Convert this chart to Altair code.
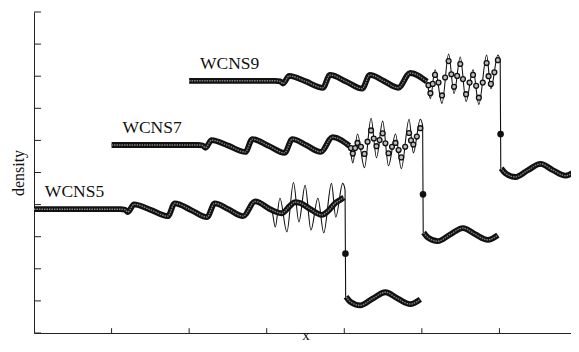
import altair as alt
import pandas as pd

schemes = ["WCNS5", "WCNS7", "WCNS9"]
shift_x = [0, 2, 4]
shift_y = [0, 2, 4]

# smooth part before the high-frequency region (shared)
pre_x = [-5.00, -2.78, -2.65, -2.58, -2.42, -2.00, -1.55, -1.37, -0.95, -0.54, -0.34, 0.02, 0.39, 0.70, 1.13]
pre_rho = [3.857, 3.857, 3.84, 3.77, 4.01, 3.84, 3.64, 4.04, 3.83, 3.61, 4.04, 3.85, 3.64, 4.10, 3.83]

# reference (fine grid) in the high-frequency region, up to the shock
ref_hf_x = [1.22, 1.34, 1.52, 1.69, 1.83, 1.99, 2.14, 2.32, 2.47, 2.67, 2.78, 2.96, 3.02]
ref_hf_rho = [3.30, 4.20, 3.15, 4.69, 3.46, 4.60, 3.21, 4.20, 3.12, 4.66, 3.61, 4.66, 4.45]

# post-shock state (shared)
post_x = [3.035, 3.15, 3.40, 3.72, 4.05, 4.37, 4.69, 4.95]
post_rho = [1.13, 0.97, 0.86, 1.07, 1.27, 1.07, 0.90, 1.05]

# WCNS5 band through the high-frequency region
w5_hf_x = [1.38, 1.60, 1.73, 1.86, 2.10, 2.42, 2.60, 2.76, 2.90, 2.99]
w5_hf_rho = [3.73, 3.96, 4.08, 4.05, 3.88, 3.68, 3.82, 4.04, 4.15, 4.22]

# WCNS7 / WCNS9 points in the high-frequency region
hf_x = [1.17, 1.22, 1.28, 1.34, 1.43, 1.52, 1.60, 1.69, 1.76, 1.83, 1.91, 1.99,
        2.06, 2.14, 2.23, 2.32, 2.40, 2.47, 2.57, 2.67, 2.72, 2.78, 2.87, 2.96]
w7_hf_rho = [3.76, 3.59, 3.76, 3.92, 3.80, 3.58, 3.96, 4.31, 4.06, 3.82, 4.01, 4.22,
             3.91, 3.60, 3.80, 3.92, 3.70, 3.47, 3.80, 4.23, 4.00, 3.87, 4.12, 4.38]
w9_hf_rho = [3.72, 3.47, 3.76, 4.04, 3.80, 3.40, 3.96, 4.47, 4.06, 3.67, 4.01, 4.38,
             3.91, 3.44, 3.80, 4.04, 3.70, 3.33, 3.80, 4.41, 4.00, 3.76, 4.12, 4.50]

shock_x = 3.03
shock_rho = [2.47, 2.32, 2.20]

y_ticks = list(range(0, 11))
x_ticks = [-3, -1, 1, 3, 5, 7]

ref_x_all = pre_x + ref_hf_x + post_x
ref_rho_all = pre_rho + ref_hf_rho + post_rho

ref_rows, band_rows, pt_rows, shock_rows, lab_rows = [], [], [], [], []
for i, s in enumerate(schemes):
    sx, sy = shift_x[i], shift_y[i]
    for j, (x, r) in enumerate(zip(ref_x_all, ref_rho_all)):
        ref_rows.append({"s": s, "idx": j, "x": x + sx, "y": r + sy})
    if s == "WCNS5":
        ax = pre_x + w5_hf_x
        ar = pre_rho + w5_hf_rho
    else:
        ax, ar = pre_x, pre_rho
        hr = w7_hf_rho if s == "WCNS7" else w9_hf_rho
        for x, r in zip(hf_x, hr):
            pt_rows.append({"s": s, "x": x + sx, "y": r + sy})
    for j, (x, r) in enumerate(zip(ax, ar)):
        band_rows.append({"seg": s + "a", "idx": j, "x": x + sx, "y": r + sy})
    for j, (x, r) in enumerate(zip(post_x, post_rho)):
        band_rows.append({"seg": s + "b", "idx": j, "x": x + sx + 0.01, "y": r + sy})
    shock_rows.append({"s": s, "x": shock_x + sx, "y": shock_rho[i] + sy})
    lab_rows.append({"s": s, "x": -4.72 + sx, "y": 4.23 + sy})

ref_df = pd.DataFrame(ref_rows)
band_df = pd.DataFrame(band_rows)
pt_df = pd.DataFrame(pt_rows)
shock_df = pd.DataFrame(shock_rows)
lab_df = pd.DataFrame(lab_rows)
yt_df = pd.DataFrame({"y": y_ticks, "x": [-5.0] * len(y_ticks), "x2": [-4.82] * len(y_ticks)})
xt_df = pd.DataFrame({"x": x_ticks, "y": [0.0] * len(x_ticks), "y2": [0.15] * len(x_ticks)})
rb_df = pd.DataFrame({"x": [8.95], "y": [0.0], "y2": [10.0]})

FONT = "Liberation Serif"
xs = alt.Scale(domain=[-5, 9], nice=False, zero=False)
ys = alt.Scale(domain=[0, 10], nice=False, zero=False)
X = alt.X("x:Q", scale=xs, axis=alt.Axis(title="x", labels=False, ticks=False, grid=False,
                                          domainColor="#222", domainWidth=1, titleFont=FONT,
                                          titleFontSize=15, titleFontWeight="normal",
                                          titleColor="#111", titleBaseline="alphabetic",
                                          titlePadding=6))
Y = alt.Y("y:Q", scale=ys, axis=alt.Axis(title="density", labels=False, ticks=False, grid=False,
                                          domainColor="#222", domainWidth=1, titleFont=FONT,
                                          titleFontSize=16, titleFontWeight="normal",
                                          titleColor="#111", titlePadding=8))

ref_line = alt.Chart(ref_df).mark_line(interpolate="monotone", color="#111", strokeWidth=1.1).encode(
    x=X, y=Y, detail="s:N", order="idx:Q")
band_outer = alt.Chart(band_df).mark_line(interpolate="monotone", color="#111", strokeWidth=5.8).encode(
    x="x:Q", y="y:Q", detail="seg:N", order="idx:Q")
band_inner = alt.Chart(band_df).mark_line(interpolate="monotone", color="#858585", strokeWidth=1.4,
                                          strokeDash=[1.5, 1]).encode(
    x="x:Q", y="y:Q", detail="seg:N", order="idx:Q")
pts = alt.Chart(pt_df).mark_point(shape="circle", filled=True, fill="#bcbcbc", stroke="#111",
                                  strokeWidth=1.3, size=24, opacity=1).encode(x="x:Q", y="y:Q")
shock_pts = alt.Chart(shock_df).mark_point(shape="circle", filled=True, fill="#111", stroke="#111",
                                           size=22, opacity=1).encode(x="x:Q", y="y:Q")
labels = alt.Chart(lab_df).mark_text(font=FONT, fontSize=17.5, align="left", baseline="alphabetic",
                                     color="#111").encode(x="x:Q", y="y:Q", text="s:N")
yt = alt.Chart(yt_df).mark_rule(color="#222", strokeWidth=1).encode(x="x:Q", x2="x2:Q", y="y:Q")
xt = alt.Chart(xt_df).mark_rule(color="#222", strokeWidth=1).encode(x="x:Q", y="y:Q", y2="y2:Q")
rb = alt.Chart(rb_df).mark_rule(color="#999", strokeWidth=1, strokeDash=[1, 2]).encode(
    x="x:Q", y="y:Q", y2="y2:Q")

chart = alt.layer(ref_line, band_outer, band_inner, pts, shock_pts, labels, yt, xt, rb).properties(
    width=543, height=321,
    autosize=alt.AutoSizeParams(type="none"),
    padding={"left": 26, "top": 4, "right": -6, "bottom": 11},
    background="white",
).configure_view(stroke=None)

chart.save("out.html", embed_options={"renderer": "svg", "actions": False})
